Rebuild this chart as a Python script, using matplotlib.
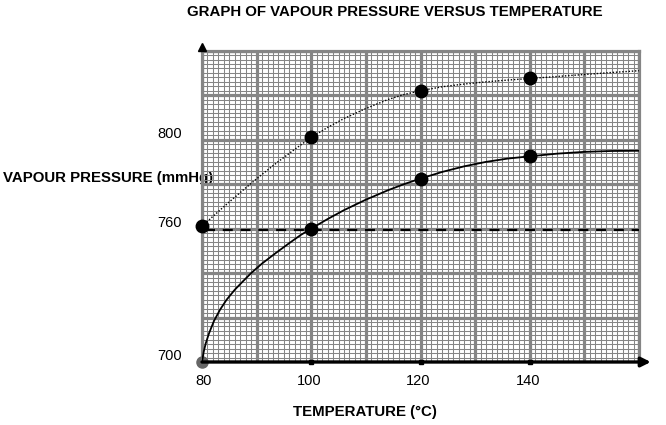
import matplotlib
matplotlib.use("Agg")
import matplotlib.pyplot as plt
import numpy as np

plt.rcParams['font.family'] = ['Liberation Sans', 'DejaVu Sans']

# ---------------- data ----------------
TITLE = "GRAPH OF VAPOUR PRESSURE VERSUS TEMPERATURE"
YLABEL = "VAPOUR PRESSURE (mmHg)"
XLABEL = "TEMPERATURE (°C)"

x_tick_vals = [80, 100, 120, 140]
x_tick_labels = ["80", "100", "120", "140"]
y_tick_vals = [700, 760, 800]
y_tick_labels = ["700", "760", "800"]

# upper (dotted) curve
dot_T = [80, 82, 85, 88, 91, 94, 97, 100, 103, 106, 110, 114, 117, 120,
         124, 128, 132, 136, 140, 145, 150, 155, 160]
dot_P = [761, 765.5, 772, 778.3, 784.4, 790.2, 795.7, 801, 805.5, 809.5, 814, 818, 820.3, 822,
         823.8, 825.0, 826.0, 826.8, 827.5, 828.4, 829.3, 830.2, 831]
dot_mark_T = [80, 100, 120, 140]
dot_mark_P = [761, 801, 822, 827.5]

# lower (solid) curve
sol_T = [80, 80.3, 80.7, 81.3, 82.2, 83.3, 84.5, 86, 87.5, 89, 91, 93.5, 96, 98, 100,
         103, 106, 110, 114, 117, 120, 124, 128, 132, 136, 140, 145, 150, 155, 160]
sol_P = [700, 704.5, 708.5, 713, 718.5, 723.5, 728, 732.5, 736.3, 740, 744.3, 749, 753.5, 757, 760,
         764.3, 768.3, 773, 777.2, 780, 782.5, 785.5, 788, 790, 791.5, 792.5, 793.7, 794.5, 794.9, 795]
sol_mark_T = [100, 120, 140]
sol_mark_P = [760, 782.5, 792.5]
origin_T = [80]
origin_P = [700]

# dashed reference line (760 mmHg)
ref_P = 759.3
ref_T = [80.5, 160]

# ---------------- figure ----------------
W, H = 666, 425
fig = plt.figure(figsize=(W / 100, H / 100), dpi=100)
L, R, T_, B = 202, 639, 50.7, 362
ax = fig.add_axes([L / W, 1 - B / H, (R - L) / W, (B - T_) / H])
ax.set_facecolor('none')
ax.set_zorder(1)

ax.set_xlim(80, 160)
ax.set_ylim(700, 840)

grid_c = '#858585'
ax.set_xticks(np.arange(80, 161, 10))
ax.set_xticks(np.arange(80, 161, 1), minor=True)
ax.set_yticks(np.arange(700, 841, 20))
ax.set_yticks(np.arange(700, 841, 2), minor=True)
ax.grid(which='minor', color=grid_c, lw=0.75)
ax.grid(which='major', color=grid_c, lw=2.3)
ax.set_axisbelow(True)
ax.tick_params(which='both', length=0, labelbottom=False, labelleft=False)

for sp in ['top', 'right', 'left']:
    ax.spines[sp].set_color(grid_c)
    ax.spines[sp].set_linewidth(2.3)
ax.spines['bottom'].set_visible(False)

# tick labels
for v, lab in zip(x_tick_vals, x_tick_labels):
    ax.annotate(lab, xy=(v, 0), xycoords=('data', 'axes fraction'),
                xytext=(2 if v == 80 else -2, -19), textcoords='offset pixels',
                ha='center', va='center', fontsize=10.5, annotation_clip=False)
for v, lab in zip(y_tick_vals, y_tick_labels):
    ax.annotate(lab, xy=(0, v), xycoords=('axes fraction', 'data'),
                xytext=(-20, 6), textcoords='offset pixels',
                ha='right', va='center', fontsize=10.5, annotation_clip=False)

# small tick marks on x axis
ax.plot(x_tick_vals[1:], [700] * 3, ls='none', marker='s', ms=3, color='k',
        clip_on=False, zorder=6)

# curves
ax.plot(sol_T, sol_P, color='k', lw=1.3, zorder=4, solid_joinstyle='round')
ax.plot(dot_T, dot_P, color='k', lw=1.0, ls=(0, (1, 1.3)), zorder=4)
ax.plot(ref_T, [ref_P, ref_P], color='k', lw=1.6, dashes=(4.5, 3.5), zorder=4)

ax.plot(dot_mark_T, dot_mark_P, 'o', color='k', ms=9, zorder=5, clip_on=False)
ax.plot(sol_mark_T, sol_mark_P, 'o', color='k', ms=9, zorder=5, clip_on=False)
ax.plot(origin_T, origin_P, 'o', color='#666666', ms=8, zorder=3, clip_on=False)

# axis arrows
ax.annotate('', xy=(1.027, 0), xytext=(0, 0), xycoords='axes fraction',
            arrowprops=dict(arrowstyle='-|>', lw=2.4, color='k',
                            mutation_scale=14, shrinkA=0, shrinkB=0),
            annotation_clip=False, zorder=6)
ax.plot([0], [1.011], marker='^', color='k', ms=6, transform=ax.transAxes,
        clip_on=False, zorder=6)

# texts
fig.text(395 / W, 1 - 12 / H, TITLE, ha='center', va='center',
         fontsize=10.85, fontweight='bold')
fig.text(3 / W, 1 - 178.5 / H, YLABEL, ha='left', va='center',
         fontsize=10.85, fontweight='bold', zorder=-1)
fig.text(365 / W, 1 - 412 / H, XLABEL, ha='center', va='center',
         fontsize=10.85, fontweight='bold')

fig.savefig('out.png', dpi=100)
